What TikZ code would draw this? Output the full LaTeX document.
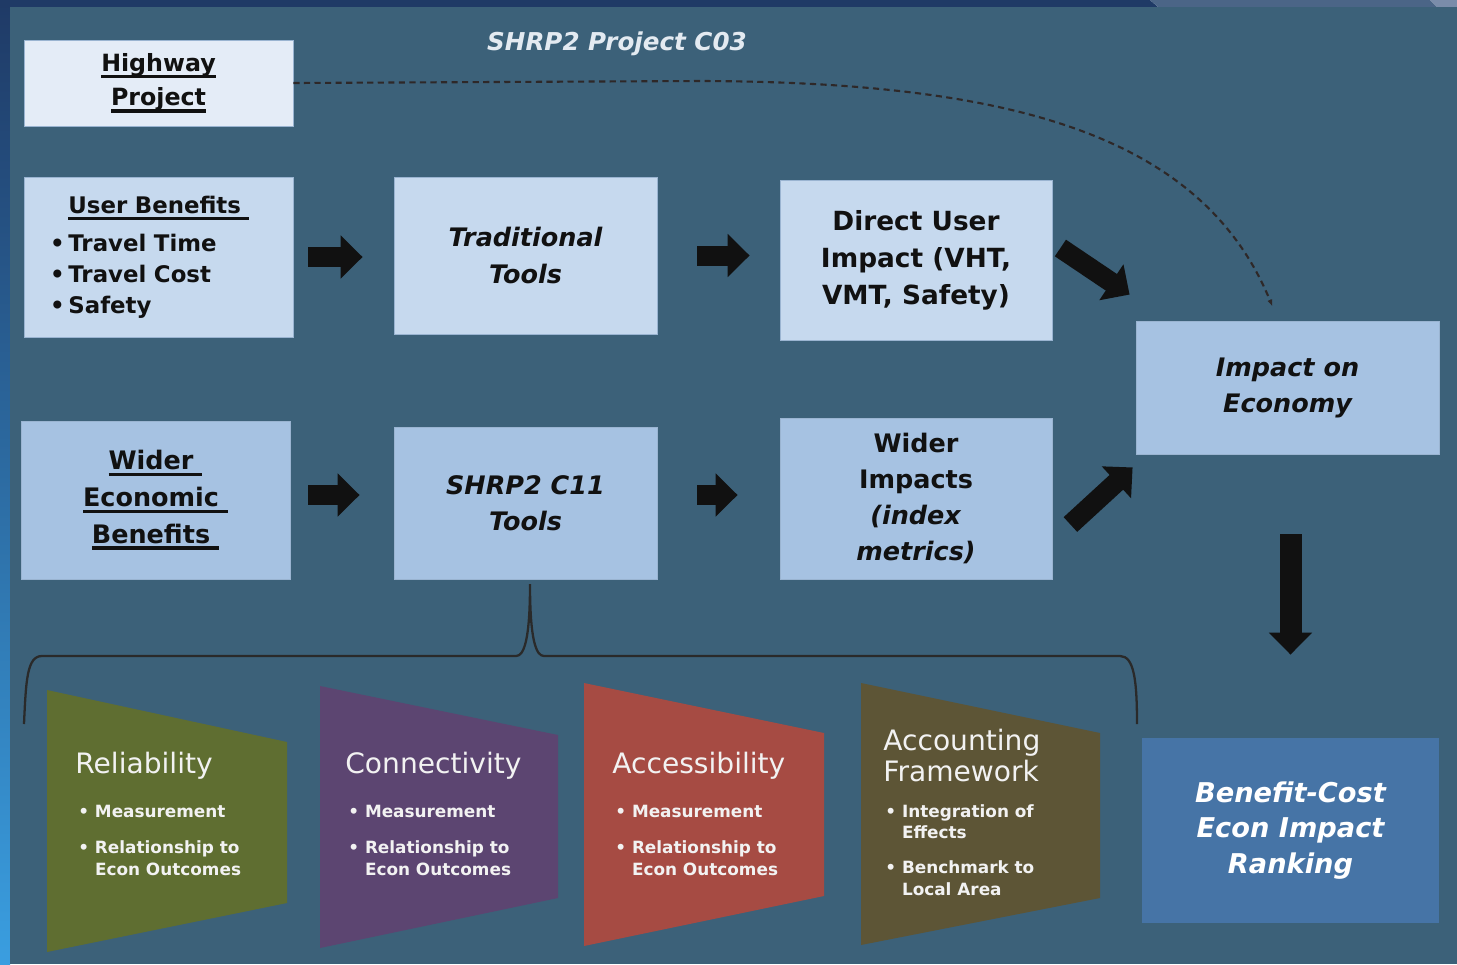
\documentclass[tikz,border=0pt]{standalone}
\usepackage{fontspec}
\setmainfont{DejaVu Sans}
\usepackage{tikz}
\usetikzlibrary{arrows.meta,calc}

\definecolor{panel}{HTML}{3C6179}
\definecolor{frametop}{HTML}{1F3A66}
\definecolor{framemid}{HTML}{4B6587}
\definecolor{framelight}{HTML}{7A8CAA}
\definecolor{stripbottom}{HTML}{3A9EE0}
\definecolor{hpfill}{HTML}{E4ECF7}
\definecolor{lightfill}{HTML}{C6D9EE}
\definecolor{midfill}{HTML}{A6C2E2}
\definecolor{bcfill}{HTML}{4674A6}
\definecolor{boxedge}{HTML}{9AB4D1}
\definecolor{inkdark}{HTML}{111111}
\definecolor{paleink}{HTML}{E3EAF1}
\definecolor{relcol}{HTML}{5F6E31}
\definecolor{concol}{HTML}{5C4571}
\definecolor{acccol}{HTML}{A64B43}
\definecolor{fwkcol}{HTML}{5D5536}
\definecolor{dashcol}{HTML}{2E2828}
\definecolor{bracecol}{HTML}{2A2A2A}

\newcommand{\boxfont}{\fontsize{14.5}{20.5}\selectfont\bfseries}
\newcommand{\bulletfont}{\fontsize{9.6}{12.5}\selectfont\bfseries}
\newcommand{\trapfont}{\fontsize{16}{17.6}\selectfont}
% thick underline for the box headings
\newcommand{\hdline}[1]{\setbox0\hbox{#1}\rlap{\rule[-3.9pt]{\wd0}{2pt}}\box0}

\tikzset{
  flowbox/.style={draw=boxedge, line width=0.5pt, inner sep=0pt, align=center, text=inkdark, font=\boxfont},
  bigarrow/.style={inkdark, line width=0.4cm, -{Triangle[width=0.84cm,length=0.44cm]}},
  traptext/.style={anchor=base west, inner sep=0pt, text=white!95!black},
  projline/.style={dashcol, line width=1.2pt, dash pattern=on 3.5pt off 2.5pt, -{Latex[length=4pt,width=3pt]}},
}

\begin{document}
\begin{tikzpicture}[x=0.02cm, y=0.02cm]
\useasboundingbox (0,0) rectangle (1457,-964);
% frame and panel
\shade[top color=frametop, bottom color=stripbottom] (0,0) rectangle (10,-964);
\fill[frametop] (0,0) -- (1150,0) -- (1158,-7) -- (0,-7) -- cycle;
\fill[framemid] (1150,0) -- (1430,0) -- (1437,-7) -- (1158,-7) -- cycle;
\fill[framelight] (1430,0) -- (1457,0) -- (1457,-7) -- (1437,-7) -- cycle;
\fill[panel] (10,-7) rectangle (1457,-964);

% boxes
\node (hp) at (158.5,-83) [flowbox, fill=hpfill, minimum width=5.38cm, minimum height=1.72cm, font=\fontsize{13.5}{19.8}\selectfont\bfseries] {\hdline{Highway}\\\hdline{Project}};
\node (ub) at (158.5,-257) [flowbox, fill=lightfill, minimum width=5.38cm, minimum height=3.2cm, text width=4.34cm, align=left, font=\fontsize{13}{17.6}\selectfont\bfseries] {\makebox[\linewidth]{\hdline{User Benefits\ }}\\[3.9pt]\textbullet\,Travel Time\\\textbullet\,Travel Cost\\\textbullet\,Safety};
\node (tt) at (525.5,-255.5) [flowbox, fill=lightfill, minimum width=5.26cm, minimum height=3.14cm, font=\boxfont\itshape] {Traditional\\Tools};
\node (dui) at (916,-260) [flowbox, fill=lightfill, minimum width=5.44cm, minimum height=3.2cm, font=\fontsize{15}{21}\selectfont\bfseries] {Direct User\\Impact (VHT,\\VMT, Safety)};
\node (web) at (155.5,-500) [flowbox, fill=midfill, minimum width=5.38cm, minimum height=3.16cm, font=\fontsize{14.5}{21}\selectfont\bfseries] {\hdline{Wider\ }\\\hdline{Economic\ }\\\hdline{Benefits\ }};
\node (c11) at (525.5,-503) [flowbox, fill=midfill, minimum width=5.26cm, minimum height=3.04cm, font=\boxfont\itshape] {SHRP2 C11\\Tools};
\node (wi) at (916,-498.5) [flowbox, fill=midfill, minimum width=5.44cm, minimum height=3.22cm] {Wider\\Impacts\\\textit{(index}\\\textit{metrics)}};
\node (ioe) at (1287.5,-387.5) [flowbox, fill=midfill, minimum width=6.06cm, minimum height=2.66cm, font=\boxfont\itshape] {Impact on\\Economy};
\node (bc) at (1290.5,-830.5) [flowbox, draw=none, fill=bcfill, text=white, minimum width=5.94cm, minimum height=3.7cm, font=\fontsize{15.5}{20.4}\selectfont\bfseries\itshape] {Benefit-Cost\\Econ Impact\\Ranking};

% project C03 link
\node (c03) at (617,-44) [inner sep=0pt, text=paleink, font=\fontsize{14}{16}\selectfont\bfseries\itshape] {SHRP2 Project C03};
\draw[projline] (hp.east) -- (700,-81) .. controls (1000,-82) and (1200,-130) .. ([shift={(-15,14)}]ioe.north);

% block arrows
\draw[bigarrow, shorten <=0.3cm, shorten >=0.62cm] (ub.east) -- (ub.east -| tt.west);
\draw[bigarrow, shorten <=0.8cm, shorten >=0.6cm] (tt.east) -- (tt.east -| dui.west);
\draw[bigarrow, shorten <=0.36cm, shorten >=0.68cm] ([yshift=0.1cm]web.east) -- ([yshift=0.1cm]web.east -| c11.west);
\draw[bigarrow, shorten <=0.8cm, shorten >=0.84cm] ([yshift=0.16cm]c11.east) -- ([yshift=0.16cm]c11.east -| wi.west);
\draw[bigarrow] ([shift={(8,12)}]dui.east) -- ([shift={(-6,26)}]ioe.north west);
\draw[bigarrow] ([shift={(18,-26)}]wi.east) -- ([shift={(-3,-13)}]ioe.south west);
\draw[bigarrow, line width=0.44cm, shorten <=1.6cm, shorten >=1.66cm] (ioe.south -| bc.north) -- (bc.north);

% brace over the C11 tool areas
\draw[bracecol, line width=1.3pt] (24,-724) .. controls (26,-680) and (27,-656) .. (42,-656)
  -- (516,-656) .. controls (524,-656) and (530,-640) .. (530,-584)
  .. controls (530,-640) and (536,-656) .. (544,-656)
  -- (1120,-656) .. controls (1134,-656) and (1137,-680) .. (1137,-724);

% tool areas
\fill[relcol] (47,-690) -- (287,-742) -- (287,-903) -- (47,-952) -- cycle;
\fill[concol] (320,-686) -- (558,-735) -- (558,-898) -- (320,-948) -- cycle;
\fill[acccol] (584,-683) -- (824,-733) -- (824,-896) -- (584,-946) -- cycle;
\fill[fwkcol] (861,-683) -- (1100,-733) -- (1100,-898) -- (861,-945) -- cycle;

\foreach \tx/\nm/\ttl in {75/rel/Reliability, 345/con/Connectivity, 612/acc/Accessibility}{
  \node (\nm-title) at (\tx,-773) [traptext, font=\trapfont] {\ttl};
  \node (\nm-meas) at (\tx+3,-817) [traptext, font=\bulletfont] {\textbullet\ Measurement};
  \node (\nm-link) at (\tx+3,-853) [traptext, font=\bulletfont] {\textbullet\ Relationship to};
  \node (\nm-out) at (\tx+3,-875) [traptext, font=\bulletfont] {\phantom{\textbullet\ }Econ Outcomes};
}
\node (fwk-title) at (883,-750) [traptext, font=\trapfont] {Accounting};
\node (fwk-title2) at (883,-781) [traptext, font=\trapfont] {Framework};
\node (fwk-int) at (885,-817) [traptext, font=\bulletfont] {\textbullet\ Integration of};
\node (fwk-eff) at (885,-838) [traptext, font=\bulletfont] {\phantom{\textbullet\ }Effects};
\node (fwk-bench) at (885,-873) [traptext, font=\bulletfont] {\textbullet\ Benchmark to};
\node (fwk-area) at (885,-895) [traptext, font=\bulletfont] {\phantom{\textbullet\ }Local Area};
\end{tikzpicture}
\end{document}
